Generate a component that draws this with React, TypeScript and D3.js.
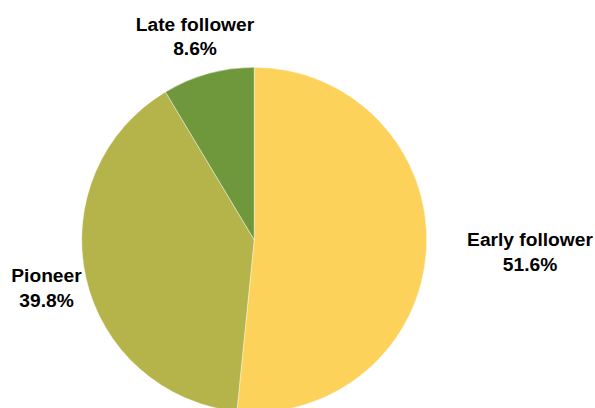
import React from "react";
import * as d3 from "d3";

const categories = ["Early follower", "Pioneer", "Late follower"];
const values = [51.6, 39.8, 8.6];
const labels = ["51.6%", "39.8%", "8.6%"];
const colors = ["#FDD25A", "#B4B44A", "#6F983C"];

const W = 595;
const H = 408;
const cx = 254.2;
const cy = 239.8;
const R = 172.5;

const labelPos: Record<string, [number, number]> = {
  "Early follower": [530, 246.3],
  "Pioneer": [46.5, 282],
  "Late follower": [195, 30.8],
};

export default function App() {
  const pie = d3.pie<number>().sort(null).value((d) => d)(values);
  const arc = d3.arc<d3.PieArcDatum<number>>().innerRadius(0).outerRadius(R);
  return (
    <svg
      width={W}
      height={H}
      style={{ position: "absolute", left: 0, top: 0, background: "#fff" }}
      fontFamily="'Liberation Sans', Arial, sans-serif"
    >
      <g transform={`translate(${cx},${cy})`}>
        {pie.map((p, i) => (
          <path
            key={categories[i]}
            d={arc(p) || ""}
            fill={colors[i]}
            stroke="#ffffff"
            strokeWidth={0.6}
            strokeOpacity={0.7}
          />
        ))}
      </g>
      {categories.map((c, i) => {
        const [x, y] = labelPos[c];
        return (
          <text
            key={c}
            x={x}
            y={y}
            textAnchor="middle"
            fontSize={19.2}
            fontWeight="bold"
            fill="#000"
          >
            <tspan x={x}>{c}</tspan>
            <tspan x={x} dy={24.6}>
              {labels[i]}
            </tspan>
          </text>
        );
      })}
    </svg>
  );
}
